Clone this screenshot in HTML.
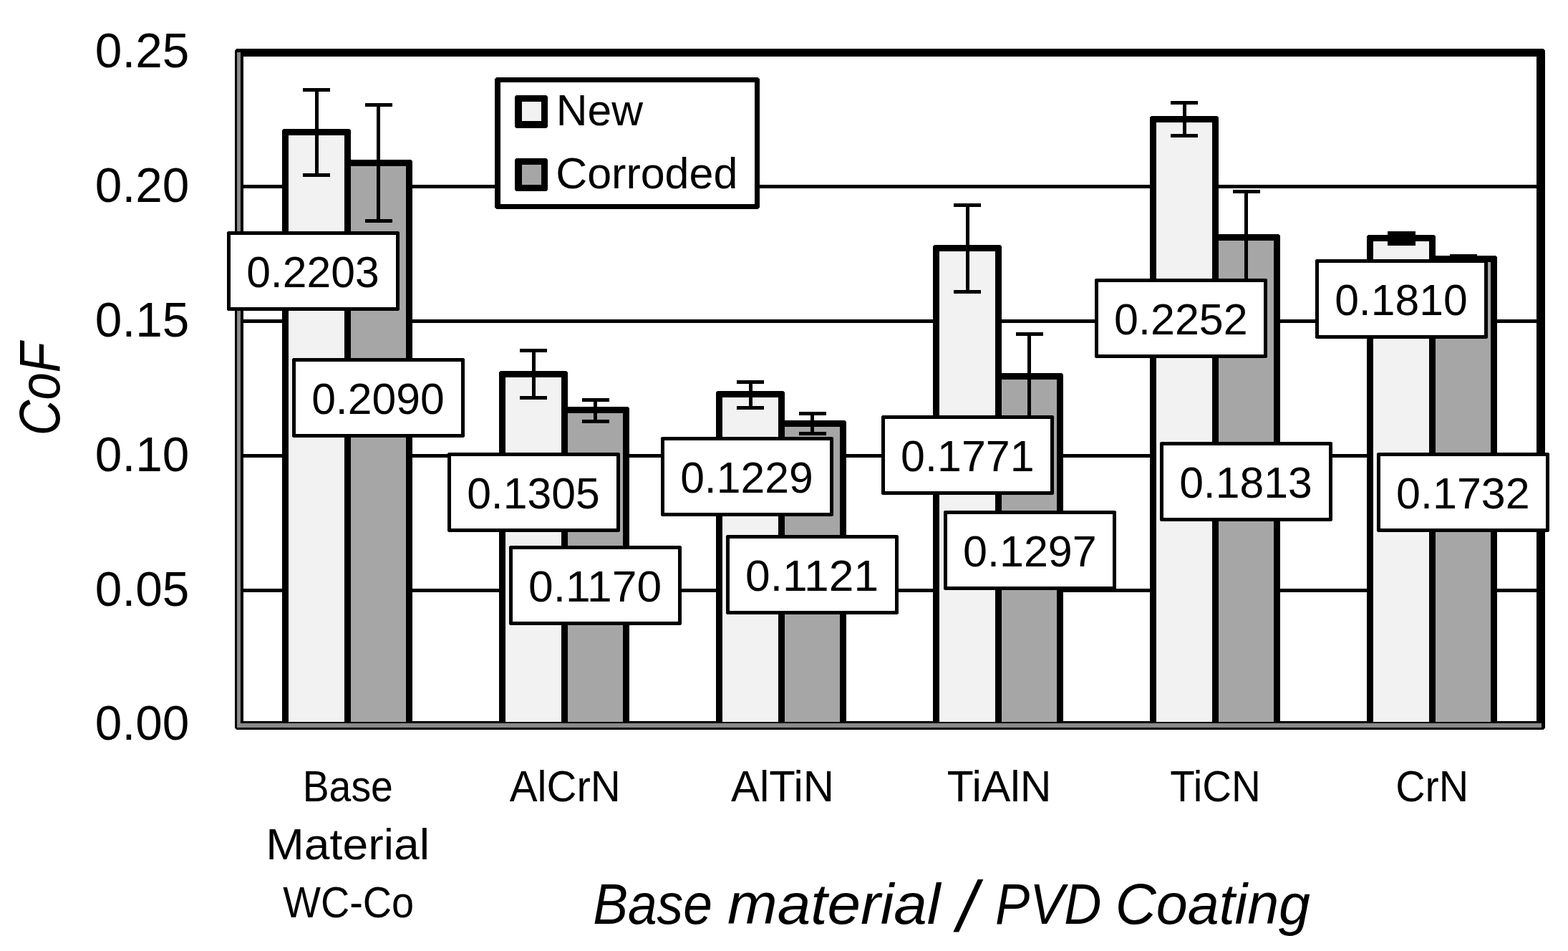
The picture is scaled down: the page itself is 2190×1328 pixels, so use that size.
<!DOCTYPE html>
<html><head><meta charset="utf-8"><title>CoF chart</title>
<style>html,body{margin:0;padding:0;background:#fff;width:2190px;height:1328px;overflow:hidden}svg{display:block}
text{font-family:'Liberation Sans', Arial, sans-serif;fill:#000}</style></head>
<body><svg width="2190" height="1328" viewBox="0 0 2190 1328">
<rect x="0" y="0" width="2190" height="1328" fill="#fff"/>
<rect x="340" y="258.0" width="1806" height="5" fill="#000"/>
<rect x="340" y="446.0" width="1806" height="5" fill="#000"/>
<rect x="340" y="634.0" width="1806" height="5" fill="#000"/>
<rect x="340" y="822.0" width="1806" height="5" fill="#000"/>
<path d="M330.5,68H2155.5L2158,70.5V1016.5L2155.5,1019H330.5L328,1016.5V70.5Z M340,79V1007H2146V79Z" fill="#000" fill-rule="evenodd"/>
<path d="M394.0,1010V182.0L396.0,180.0H488.0L490.0,182.0V1010Z" fill="#000"/><rect x="403.0" y="189.0" width="78.0" height="819.0" fill="#f2f2f2"/>
<path d="M481.0,1010V225.0L483.0,223.0H574.0L576.0,225.0V1010Z" fill="#000"/><rect x="490.0" y="232.0" width="77.0" height="776.0" fill="#a6a6a6"/>
<path d="M697.0,1010V520.0L699.0,518.0H791.0L793.0,520.0V1010Z" fill="#000"/><rect x="706.0" y="527.0" width="78.0" height="481.0" fill="#f2f2f2"/>
<path d="M784.0,1010V570.0L786.0,568.0H877.0L879.0,570.0V1010Z" fill="#000"/><rect x="793.0" y="577.0" width="77.0" height="431.0" fill="#a6a6a6"/>
<path d="M1000.0,1010V548.0L1002.0,546.0H1094.0L1096.0,548.0V1010Z" fill="#000"/><rect x="1009.0" y="555.0" width="78.0" height="453.0" fill="#f2f2f2"/>
<path d="M1087.0,1010V589.0L1089.0,587.0H1180.0L1182.0,589.0V1010Z" fill="#000"/><rect x="1096.0" y="596.0" width="77.0" height="412.0" fill="#a6a6a6"/>
<path d="M1303.0,1010V344.0L1305.0,342.0H1397.0L1399.0,344.0V1010Z" fill="#000"/><rect x="1312.0" y="351.0" width="78.0" height="657.0" fill="#f2f2f2"/>
<path d="M1390.0,1010V523.0L1392.0,521.0H1483.0L1485.0,523.0V1010Z" fill="#000"/><rect x="1399.0" y="530.0" width="77.0" height="478.0" fill="#a6a6a6"/>
<path d="M1606.0,1010V164.0L1608.0,162.0H1700.0L1702.0,164.0V1010Z" fill="#000"/><rect x="1615.0" y="171.0" width="78.0" height="837.0" fill="#f2f2f2"/>
<path d="M1693.0,1010V329.0L1695.0,327.0H1786.0L1788.0,329.0V1010Z" fill="#000"/><rect x="1702.0" y="336.0" width="77.0" height="672.0" fill="#a6a6a6"/>
<path d="M1909.0,1010V330.0L1911.0,328.0H2003.0L2005.0,330.0V1010Z" fill="#000"/><rect x="1918.0" y="337.0" width="78.0" height="671.0" fill="#f2f2f2"/>
<path d="M1996.0,1010V359.0L1998.0,357.0H2089.0L2091.0,359.0V1010Z" fill="#000"/><rect x="2005.0" y="366.0" width="77.0" height="642.0" fill="#a6a6a6"/>
<rect x="331" y="73" width="5" height="943" fill="#8a8a8a"/>
<rect x="331" y="1010" width="1822" height="6" fill="#8a8a8a"/>
<path d="M440.0,125.5H445.0V244.5H440.0Z M423.0,123.0H461.0V128.0H423.0Z M423.0,242.0H461.0V247.0H423.0Z" fill="#000"/>
<path d="M526.0,146.5H531.0V308.5H526.0Z M510.0,144.0H548.0V149.0H510.0Z M510.0,306.0H548.0V311.0H510.0Z" fill="#000"/>
<path d="M743.0,489.5H748.0V555.5H743.0Z M726.0,487.0H764.0V492.0H726.0Z M726.0,553.0H764.0V558.0H726.0Z" fill="#000"/>
<path d="M829.0,558.5H834.0V588.5H829.0Z M813.0,556.0H851.0V561.0H813.0Z M813.0,586.0H851.0V591.0H813.0Z" fill="#000"/>
<path d="M1046.0,533.5H1051.0V569.5H1046.0Z M1029.0,531.0H1067.0V536.0H1029.0Z M1029.0,567.0H1067.0V572.0H1029.0Z" fill="#000"/>
<path d="M1132.0,577.5H1137.0V605.5H1132.0Z M1116.0,575.0H1154.0V580.0H1116.0Z M1116.0,603.0H1154.0V608.0H1116.0Z" fill="#000"/>
<path d="M1349.0,286.5H1354.0V407.5H1349.0Z M1332.0,284.0H1370.0V289.0H1332.0Z M1332.0,405.0H1370.0V410.0H1332.0Z" fill="#000"/>
<path d="M1435.0,466.5H1440.0V584.5H1435.0Z M1419.0,464.0H1457.0V469.0H1419.0Z M1419.0,582.0H1457.0V587.0H1419.0Z" fill="#000"/>
<path d="M1652.0,143.5H1657.0V189.5H1652.0Z M1635.0,141.0H1673.0V146.0H1635.0Z M1635.0,187.0H1673.0V192.0H1635.0Z" fill="#000"/>
<path d="M1738.0,267.5H1743.0V395.5H1738.0Z M1722.0,265.0H1760.0V270.0H1722.0Z M1722.0,393.0H1760.0V398.0H1722.0Z" fill="#000"/>
<rect x="1938" y="323" width="39" height="20" fill="#000"/>
<path d="M2041.0,357.5H2046.0V365.5H2041.0Z M2025.0,355.0H2063.0V360.0H2025.0Z M2025.0,363.0H2063.0V368.0H2025.0Z" fill="#000"/>
<path d="M318.5,323H556.5L558,324.5V432.5L556.5,434H318.5L317,432.5V324.5Z" fill="#000"/><rect x="322" y="328" width="231" height="101" fill="#fff"/>
<text transform="translate(344.13,400.60) scale(0.9864,1)" font-size="61.5">0.2203</text>
<path d="M409.5,500H647.5L649,501.5V609.5L647.5,611H409.5L408,609.5V501.5Z" fill="#000"/><rect x="413" y="505" width="231" height="101" fill="#fff"/>
<text transform="translate(435.13,577.60) scale(0.9864,1)" font-size="61.5">0.2090</text>
<path d="M626.5,632H864.5L866,633.5V741.5L864.5,743H626.5L625,741.5V633.5Z" fill="#000"/><rect x="630" y="637" width="231" height="101" fill="#fff"/>
<text transform="translate(652.13,709.60) scale(0.9864,1)" font-size="61.5">0.1305</text>
<path d="M712.5,762H950.5L952,763.5V871.5L950.5,873H712.5L711,871.5V763.5Z" fill="#000"/><rect x="716" y="767" width="231" height="101" fill="#fff"/>
<text transform="translate(738.07,839.60) scale(1.0140,1)" font-size="61.5">0.1170</text>
<path d="M924.5,610H1162.5L1164,611.5V719.5L1162.5,721H924.5L923,719.5V611.5Z" fill="#000"/><rect x="928" y="615" width="231" height="101" fill="#fff"/>
<text transform="translate(950.13,687.60) scale(0.9864,1)" font-size="61.5">0.1229</text>
<path d="M1015.5,747H1253.5L1255,748.5V856.5L1253.5,858H1015.5L1014,856.5V748.5Z" fill="#000"/><rect x="1019" y="752" width="231" height="101" fill="#fff"/>
<text transform="translate(1041.07,824.60) scale(1.0140,1)" font-size="61.5">0.1121</text>
<path d="M1232.5,580H1470.5L1472,581.5V689.5L1470.5,691H1232.5L1231,689.5V581.5Z" fill="#000"/><rect x="1236" y="585" width="231" height="101" fill="#fff"/>
<text transform="translate(1258.12,657.60) scale(0.9918,1)" font-size="61.5">0.1771</text>
<path d="M1319.5,713H1557.5L1559,714.5V822.5L1557.5,824H1319.5L1318,822.5V714.5Z" fill="#000"/><rect x="1323" y="718" width="231" height="101" fill="#fff"/>
<text transform="translate(1345.12,790.60) scale(0.9918,1)" font-size="61.5">0.1297</text>
<path d="M1530.5,389H1768.5L1770,390.5V498.5L1768.5,500H1530.5L1529,498.5V390.5Z" fill="#000"/><rect x="1534" y="394" width="231" height="101" fill="#fff"/>
<text transform="translate(1556.12,466.60) scale(0.9918,1)" font-size="61.5">0.2252</text>
<path d="M1621.5,617H1859.5L1861,618.5V726.5L1859.5,728H1621.5L1620,726.5V618.5Z" fill="#000"/><rect x="1625" y="622" width="231" height="101" fill="#fff"/>
<text transform="translate(1647.13,694.60) scale(0.9864,1)" font-size="61.5">0.1813</text>
<path d="M1838.5,362H2076.5L2078,363.5V471.5L2076.5,473H1838.5L1837,471.5V363.5Z" fill="#000"/><rect x="1842" y="367" width="231" height="101" fill="#fff"/>
<text transform="translate(1864.13,439.60) scale(0.9864,1)" font-size="61.5">0.1810</text>
<path d="M1924.5,632H2162.5L2164,633.5V741.5L2162.5,743H1924.5L1923,741.5V633.5Z" fill="#000"/><rect x="1928" y="637" width="231" height="101" fill="#fff"/>
<text transform="translate(1950.12,709.60) scale(0.9918,1)" font-size="61.5">0.1732</text>
<path d="M693.5,108H1058.5L1061,110.5V289.5L1058.5,292H693.5L691,289.5V110.5Z" fill="#000"/><rect x="699" y="115" width="355" height="170" fill="#fff"/>
<path d="M721,133H763L765,135V177L763,179H721L719,177V135Z" fill="#000"/><rect x="729" y="142" width="27" height="27" fill="#f2f2f2"/>
<path d="M721,221H763L765,223V265L763,267H721L719,265V223Z" fill="#000"/><rect x="729" y="230" width="27" height="28" fill="#a6a6a6"/>
<text transform="translate(132.84,93.84) scale(0.9792,1)" font-size="69">0.25</text>
<text transform="translate(132.84,281.76) scale(0.9792,1)" font-size="69">0.20</text>
<text transform="translate(132.84,469.67) scale(0.9792,1)" font-size="69">0.15</text>
<text transform="translate(132.84,657.58) scale(0.9792,1)" font-size="69">0.10</text>
<text transform="translate(132.84,845.50) scale(0.9792,1)" font-size="69">0.05</text>
<text transform="translate(132.84,1033.41) scale(0.9792,1)" font-size="69">0.00</text>
<text transform="translate(776.73,175.00) scale(0.9932,1)" font-size="61">New</text>
<text transform="translate(776.20,262.70) scale(0.9992,1)" font-size="61">Corroded</text>
<text transform="translate(422.66,1118.70) scale(0.9076,1)" font-size="61">Base</text>
<text transform="translate(371.33,1200.00) scale(1.0538,1)" font-size="61">Material</text>
<text transform="translate(395.20,1280.80) scale(0.9152,1)" font-size="61">WC-Co</text>
<text transform="translate(711.70,1118.90) scale(0.9538,1)" font-size="61">AlCrN</text>
<text transform="translate(1021.00,1118.90) scale(0.9810,1)" font-size="61">AlTiN</text>
<text transform="translate(1322.71,1118.90) scale(0.9929,1)" font-size="61">TiAlN</text>
<text transform="translate(1634.37,1118.90) scale(0.9260,1)" font-size="61">TiCN</text>
<text transform="translate(1949.18,1118.90) scale(0.9406,1)" font-size="61">CrN</text>
<text transform="translate(828.16,1289.80) scale(0.9203,1)" font-size="79.5" font-style="italic">Base</text>
<text transform="translate(1016.05,1289.80) scale(1.0518,1)" font-size="79.5" font-style="italic">material</text>
<text transform="translate(1389.98,1289.80) scale(0.9088,1)" font-size="79.5" font-style="italic">PVD</text>
<text transform="translate(1557.72,1289.80) scale(0.9941,1)" font-size="79.5" font-style="italic">Coating</text>
<text transform="translate(1337.00,1300.50) scale(1.0000,1)" font-size="100" font-style="italic">/</text>
<text transform="translate(82.80,608.34) rotate(-90) scale(0.8609,1)" font-size="80" font-style="italic">CoF</text>
</svg></body></html>
